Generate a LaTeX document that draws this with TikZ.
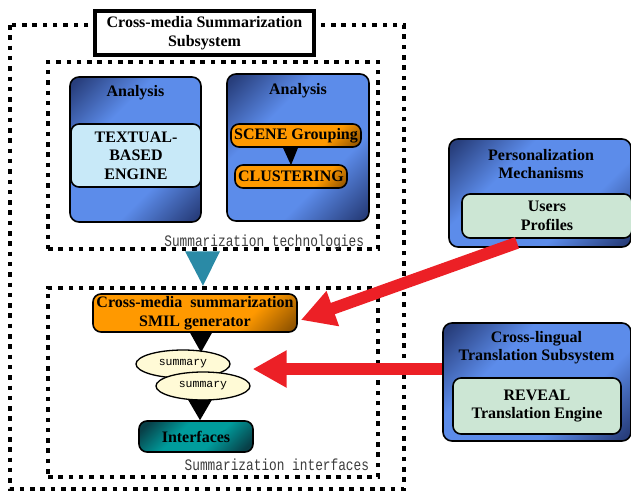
\documentclass[tikz,border=0pt]{standalone}
\usepackage{fontspec}
\setmainfont{Liberation Serif}
\setmonofont{Liberation Mono}
\usetikzlibrary{arrows.meta,shapes.geometric}

\definecolor{panelnavy}{RGB}{40,62,124}
\definecolor{panelsky}{RGB}{92,140,234}
\definecolor{enginebg}{RGB}{200,233,248}
\definecolor{profilebg}{RGB}{204,230,212}
\definecolor{stepor}{RGB}{255,153,0}
\definecolor{stepbrown}{RGB}{110,62,0}
\definecolor{tealmid}{RGB}{0,156,156}
\definecolor{tealdark}{RGB}{8,64,72}
\definecolor{flowteal}{RGB}{42,138,166}
\definecolor{summarybg}{RGB}{255,250,214}
\definecolor{feedred}{RGB}{236,32,38}
\definecolor{labelgray}{RGB}{60,60,60}

% diagonal shadings: dark corners with a bright centre, and orange darkening to one corner
\pgfdeclareverticalshading{bluepanel}{100bp}{color(0bp)=(panelnavy); color(17bp)=(panelnavy); color(36bp)=(panelsky); color(64bp)=(panelsky); color(83bp)=(panelnavy); color(100bp)=(panelnavy)}
\pgfdeclareverticalshading{orangestep}{100bp}{color(0bp)=(stepbrown); color(12bp)=(stepbrown); color(33bp)=(stepor); color(100bp)=(stepor)}
\pgfdeclareverticalshading{tealstep}{100bp}{color(0bp)=(tealdark); color(20bp)=(tealdark); color(40bp)=(tealmid); color(60bp)=(tealmid); color(80bp)=(tealdark); color(100bp)=(tealdark)}

\newcommand\boxfont{\bfseries\fontsize{16}{18.5}\selectfont}

\tikzset{
  dotframe/.style={draw, line width=4.5pt, dash pattern=on 4.5pt off 5.8pt},
  framebox/.style={draw, fill=white, line width=4.5pt, inner sep=0pt, align=center, font=\boxfont},
  panel/.style={draw, line width=1.6pt, rounded corners=9pt, shade, shading=bluepanel, shading angle=45, inner sep=0pt},
  innerbox/.style={draw, line width=1.6pt, rounded corners=8pt, inner sep=0pt, align=center, font=\boxfont},
  orangebox/.style={innerbox, shade, shading=orangestep, shading angle=45},
  tealbox/.style={innerbox, shade, shading=tealstep, shading angle=45},
  caption/.style={inner sep=0pt, align=center, font=\boxfont},
  summarynode/.style={draw, ellipse, line width=1.3pt, fill=summarybg, inner sep=0pt, minimum width=94pt, minimum height=28pt, font=\ttfamily\fontsize{11.5}{12}\selectfont},
  arealabel/.style={inner sep=0pt, anchor=east, text=labelgray, font=\ttfamily\fontsize{12.8}{13}\selectfont},
  feedback/.style={draw=feedred, line width=12pt, -{Triangle[length=34pt,width=35pt]}},
}

\begin{document}
\begin{tikzpicture}[x=1pt,y=-1pt]
\useasboundingbox (0,0) rectangle (631,493);

% subsystem frame and its two areas
\draw[dotframe] (10,25) rectangle (404,489);
\node[dotframe, inner sep=0pt, minimum width=330pt, minimum height=187pt] (tech) at (213,155.5) {};
\node[dotframe, inner sep=0pt, minimum width=330pt, minimum height=189pt] (ifc) at (213,382.5) {};
\node[framebox, minimum width=219pt, minimum height=44pt] (title) at (204.5,33) {Cross-media Summarization\\Subsystem};

% analysis panels
\node[panel, minimum width=131pt, minimum height=145pt] (textpanel) at (135.5,149.5) {};
\node[caption] (textcap) at (135.5,93) {Analysis};
\node[innerbox, fill=enginebg, minimum width=130pt, minimum height=63pt] (engine) at (136,155.5) {TEXTUAL-\\BASED\\ENGINE};

\node[panel, minimum width=142pt, minimum height=147pt] (videopanel) at (298,147.5) {};
\node[caption] (videocap) at (298,91) {Analysis};
\node[orangebox, minimum width=130pt, minimum height=23pt] (scene) at (296,135.5) {SCENE Grouping};
\node[orangebox, minimum width=112pt, minimum height=23pt] (clust) at (291,176.5) {CLUSTERING};
\fill ([xshift=-8pt]clust.north |- scene.south) -- ([xshift=7pt]clust.north |- scene.south) -- ([yshift=-1pt]clust.north) -- cycle;

\node[arealabel] (techlabel) at ([shift={(-16,-9)}]tech.south east) {\scalebox{1}[1.25]{Summarization technologies}};

% flow from the technologies into the generator
\fill[flowteal] ([xshift=-28pt]tech.south) -- ([xshift=7pt]tech.south) -- ([xshift=-10pt]ifc.north) -- cycle;

% summarization interfaces
\node[orangebox, minimum width=204pt, minimum height=38pt] (gen) at (195,313) {Cross-media\ \ summarization\\SMIL generator};
\node[summarynode] (sumA) at (183,364) {summary};
\node[summarynode] (sumB) at (203,386) {summary};
\node[tealbox, minimum width=114pt, minimum height=31pt] (iface) at (196,436.5) {Interfaces};
\fill ([xshift=-5pt]gen.south) -- ([xshift=17pt]gen.south) -- ([xshift=18pt,yshift=-3pt]sumA.north) -- cycle;
\fill ([xshift=-15pt,yshift=1pt]sumB.south) -- ([xshift=9pt,yshift=1pt]sumB.south) -- ([xshift=4pt]iface.north) -- cycle;

\node[arealabel] (ifclabel) at ([shift={(-11,-14)}]ifc.south east) {\scalebox{1}[1.25]{Summarization interfaces}};

% external subsystems
\node[panel, minimum width=182pt, minimum height=108pt] (personal) at (540,193) {};
\node[caption] (personalcap) at (541,164) {Personalization\\Mechanisms};
\node[innerbox, fill=profilebg, minimum width=170pt, minimum height=44pt] (users) at (547,216) {Users\\Profiles};

\node[panel, minimum width=188pt, minimum height=118pt] (lingual) at (537,382) {};
\node[caption] (lingualcap) at (536.5,347.5) {Cross-lingual\\Translation Subsystem};
\node[innerbox, fill=profilebg, minimum width=168pt, minimum height=56pt] (reveal) at (537,406) {REVEAL\\Translation Engine};

% feedback into the summarization chain
\draw[feedback] ([shift={(-30,4)}]users.south) -- ([shift={(3,7)}]gen.east);
\draw[feedback] ([yshift=13pt]lingual.west) -- ([shift={(2,-17)}]sumB.east);
\end{tikzpicture}
\end{document}
